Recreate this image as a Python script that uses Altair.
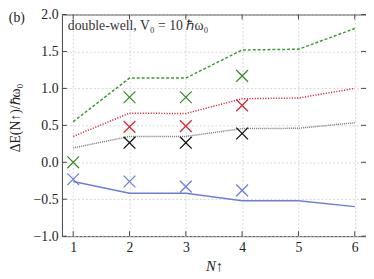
import altair as alt
import pandas as pd

N = [1, 2, 3, 4, 5, 6]
line_green = [0.55, 1.14, 1.14, 1.52, 1.53, 1.81]
line_red = [0.35, 0.665, 0.66, 0.86, 0.87, 1.00]
line_gray = [0.195, 0.35, 0.35, 0.456, 0.46, 0.535]
line_blue = [-0.26, -0.42, -0.42, -0.52, -0.52, -0.60]

cross_green_N = [1, 2, 3, 4]
cross_green = [0.0, 0.88, 0.88, 1.17]
cross_red_N = [2, 3, 4]
cross_red = [0.48, 0.49, 0.77]
cross_black_N = [2, 3, 4]
cross_black = [0.265, 0.265, 0.39]
cross_blue_N = [1, 2, 3, 4]
cross_blue = [-0.23, -0.26, -0.33, -0.38]

x_ticks = [1, 2, 3, 4, 5, 6]
y_ticks = [-1.0, -0.5, 0.0, 0.5, 1.0, 1.5, 2.0]

FONT = "Liberation Serif"
W, H = 310, 226

xs = alt.Scale(domain=[0.8, 6.2], nice=False, zero=False)
ys = alt.Scale(domain=[-1.0, 2.0], nice=False, zero=False)

x_axis = alt.Axis(values=x_ticks, format="d", title="N↑", grid=True,
                  gridDash=[2, 2], gridColor="#cccccc", gridWidth=0.8,
                  domain=False, ticks=False, labelPadding=5, labelOverlap=False,
                  labelFont=FONT, labelFontSize=14, labelColor="#222222",
                  titleFont=FONT, titleFontSize=15, titleColor="#222222",
                  titleX=155, titleY=30, titleBaseline="middle",
                  titleFontStyle="italic", titleFontWeight="normal")
y_axis = alt.Axis(values=y_ticks, format=".1f", title="ΔE(N↑)/ℏω₀", grid=True,
                  gridDash=[2, 2], gridColor="#cccccc", gridWidth=0.8,
                  domain=False, ticks=False, labelPadding=4, labelOverlap=False,
                  labelFont=FONT, labelFontSize=14, labelColor="#222222",
                  titleFont=FONT, titleFontSize=14, titleColor="#222222",
                  titleX=-47, titleY=105, titleAngle=-90, titleAlign="center",
                  titleBaseline="middle", titleFontWeight="normal")

X = alt.X("N:Q", scale=xs, axis=x_axis)
Y = alt.Y("v:Q", scale=ys, axis=y_axis)

def line(vals, color, dash, width):
    df = pd.DataFrame({"N": N, "v": vals})
    return alt.Chart(df).mark_line(color=color, strokeDash=dash, strokeWidth=width).encode(
        x=X, y=Y)

cross_shape = "M-1,-1L1,1M-1,1L1,-1"

def crosses(ns, vals, color):
    df = pd.DataFrame({"N": ns, "v": vals})
    return alt.Chart(df).mark_point(shape=cross_shape, size=144, filled=False,
                                    color=color, strokeWidth=1.3, opacity=1).encode(
        x=X, y=Y)

xdf = pd.DataFrame({"N": x_ticks})
ydf = pd.DataFrame({"v": y_ticks})

tick_col = "#444444"
bt = alt.Chart(xdf).mark_rule(color=tick_col, strokeWidth=1).encode(
    x=X, y=alt.value(H), y2=alt.value(H - 5))
tt = alt.Chart(xdf).mark_rule(color=tick_col, strokeWidth=1).encode(
    x=X, y=alt.value(0), y2=alt.value(5))
lt = alt.Chart(ydf).mark_rule(color=tick_col, strokeWidth=1).encode(
    y=Y, x=alt.value(0), x2=alt.value(5))
rt = alt.Chart(ydf).mark_rule(color=tick_col, strokeWidth=1).encode(
    y=Y, x=alt.value(W - 5), x2=alt.value(W))

label_b = alt.Chart(pd.DataFrame({"t": ["(b)"]})).mark_text(
    font=FONT, fontSize=14, align="center", baseline="top", color="#222222").encode(
    text="t:N", x=alt.value(-46), y=alt.value(-3))
label_t = alt.Chart(pd.DataFrame({"t": ["double-well, V₀ = 10 ℏω₀"]})).mark_text(
    font=FONT, fontSize=14, align="left", baseline="alphabetic", color="#333333").encode(
    text="t:N", x=alt.value(6), y=alt.value(16))

chart = alt.layer(
    line(line_green, "#3d9a35", [3, 2], 1.5),
    line(line_red, "#d8283c", [1.2, 1.5], 1.5),
    line(line_gray, "#777777", [1, 1], 1.5),
    line(line_blue, "#6b7fd7", [], 1.5),
    crosses(cross_green_N, cross_green, "#3c8a2c"),
    crosses(cross_red_N, cross_red, "#d42a3a"),
    crosses(cross_black_N, cross_black, "#111111"),
    crosses(cross_blue_N, cross_blue, "#6b7fd7"),
    bt, tt, lt, rt, label_b, label_t,
).properties(
    width=W, height=H,
    autosize=alt.AutoSizeParams(type="none"),
    padding={"left": 55, "top": 4, "right": 0, "bottom": 40},
).configure_view(
    stroke="#444444", strokeWidth=1
)

chart.save("out.html", embed_options={"renderer": "svg", "actions": False})
